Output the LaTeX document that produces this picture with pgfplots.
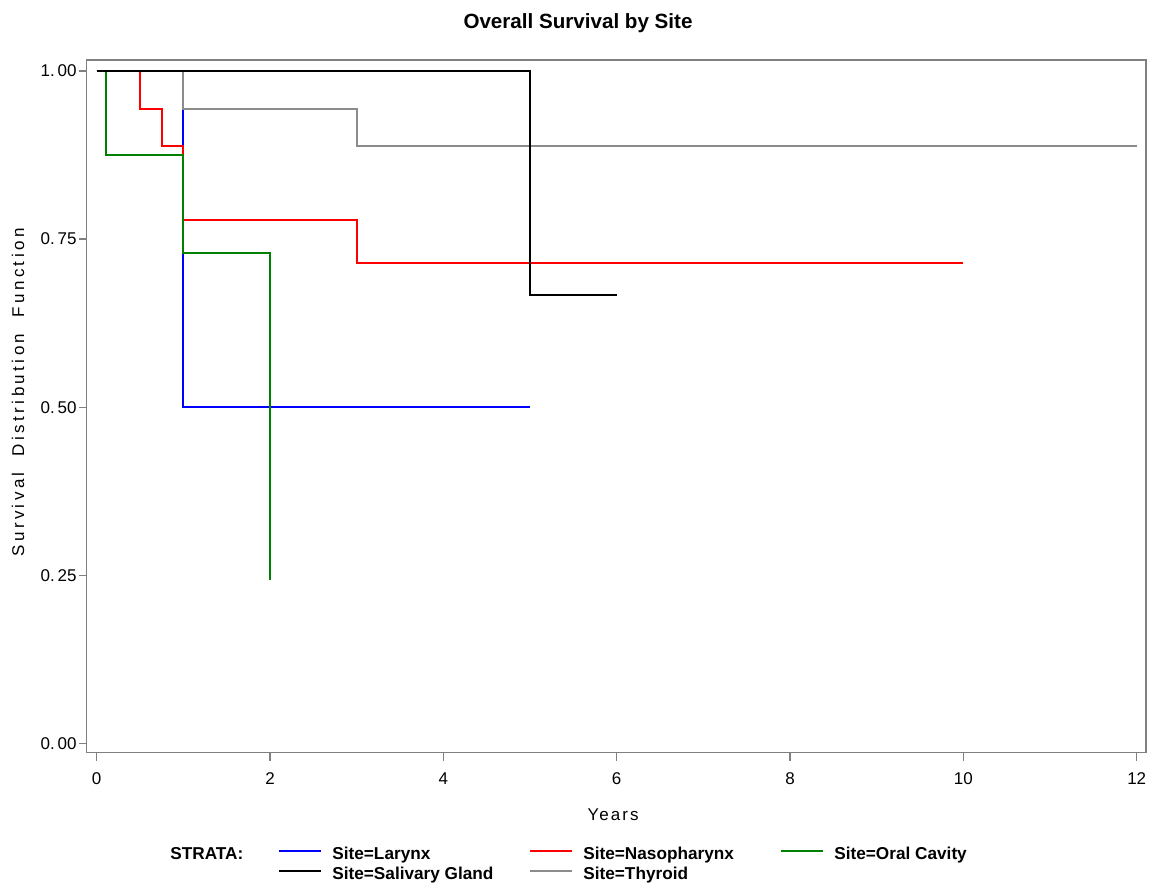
\documentclass[border=0pt]{standalone}
\usepackage{fontspec}
\setmainfont{Liberation Sans}
\newfontfamily\spacedfont{Liberation Sans}[LetterSpace=20]
\newfontfamily\xspacedfont{Liberation Sans}[LetterSpace=12]
\usepackage{pgfplots}
\pgfplotsset{compat=1.18}
\definecolor{kmgreen}{RGB}{0,128,0}
\definecolor{kmgray}{RGB}{140,140,140}
\definecolor{kmblue}{RGB}{0,0,255}
\definecolor{kmred}{RGB}{255,0,0}
\begin{document}
\begin{tikzpicture}
\path[use as bounding box] (-43.35pt,-64.65pt) rectangle (531.15pt,376.35pt);
\begin{axis}[
  scale only axis, width=529.65pt, height=346.35pt,
  xmin=-0.115, xmax=12.107, ymin=-0.014, ymax=1.0164,
  axis line style={draw=gray, line width=0.6pt},
  tick align=outside, xtick pos=bottom, ytick pos=left,
  major tick length=4pt, tick style={gray, line width=0.6pt},
  xtick={0,2,4,6,8,10,12}, xticklabels={0,2,4,6,8,10,12},
  ytick={0,0.25,0.5,0.75,1}, yticklabels={0.\,00,0.\,25,0.\,50,0.\,75,1.\,00},
  tick label style={font=\fontsize{8.5}{10}\selectfont},
  xticklabel style={yshift=-2.5pt},
  yticklabel style={xshift=2.5pt},
  title={Overall Survival by Site},
  title style={at={(axis description cs:0.4638,1)}, anchor=center, yshift=12.5pt, font=\bfseries\fontsize{10.3}{12}\selectfont},
  xlabel={Years},
  xlabel style={at={(axis description cs:0.497,-0.0899)}, anchor=center, font=\xspacedfont\fontsize{8.5}{10}\selectfont},
  ylabel={Survival\ \ Distribution\ \ Function},
  ylabel style={at={(axis description cs:-0.0649,0.52)}, anchor=center, font=\spacedfont\fontsize{8.5}{10}\selectfont},
  legend columns=4,
  legend cell align=left,
  legend style={at={(axis description cs:0.0692,-0.1353)}, anchor=north west, draw=none, fill=none,
    inner sep=0pt, column sep=0pt, row sep=2pt,
    font=\bfseries\fontsize{8.6}{10}\selectfont,
    nodes={inner sep=0pt, text height=6.5pt, text depth=1.5pt}},
  /tikz/every odd column/.append style={column sep=5pt},
  legend image code/.code={\draw[#1] (0pt,1.8pt) -- (21pt,1.8pt);},
]
\addplot[draw=kmblue, line width=0.9pt, const plot, forget plot] coordinates {(0,1) (1,0.5) (5,0.5)};
\addplot[draw=kmred, line width=0.9pt, const plot, forget plot] coordinates {(0,1) (0.5,0.944) (0.753,0.889) (1,0.778) (3,0.714) (10,0.714)};
\addplot[draw=kmgreen, line width=0.9pt, const plot, forget plot] coordinates {(0,1) (0.107,0.875) (1,0.729) (2,0.243)};
\addplot[draw=kmgray, line width=0.9pt, const plot, forget plot] coordinates {(0,1) (1,0.944) (3,0.889) (12,0.889)};
\addplot[draw=black, line width=0.9pt, const plot, forget plot] coordinates {(0,1) (5,0.667) (6,0.667)};
\addlegendimage{empty legend}
\addlegendentry{\makebox[54pt][l]{STRATA:}}
\addlegendimage{draw=kmblue, line width=1pt}
\addlegendentry{\makebox[98.5pt][l]{Site=Larynx}}
\addlegendimage{draw=kmred, line width=1pt}
\addlegendentry{\makebox[98.5pt][l]{Site=Nasopharynx}}
\addlegendimage{draw=kmgreen, line width=1pt}
\addlegendentry{\makebox[98.5pt][l]{Site=Oral Cavity}}
\addlegendimage{empty legend}
\addlegendentry{\makebox[54pt][l]{}}
\addlegendimage{draw=black, line width=1pt}
\addlegendentry{\makebox[98.5pt][l]{Site=Salivary Gland}}
\addlegendimage{draw=kmgray, line width=1pt}
\addlegendentry{\makebox[98.5pt][l]{Site=Thyroid}}
\end{axis}
\end{tikzpicture}
\end{document}
